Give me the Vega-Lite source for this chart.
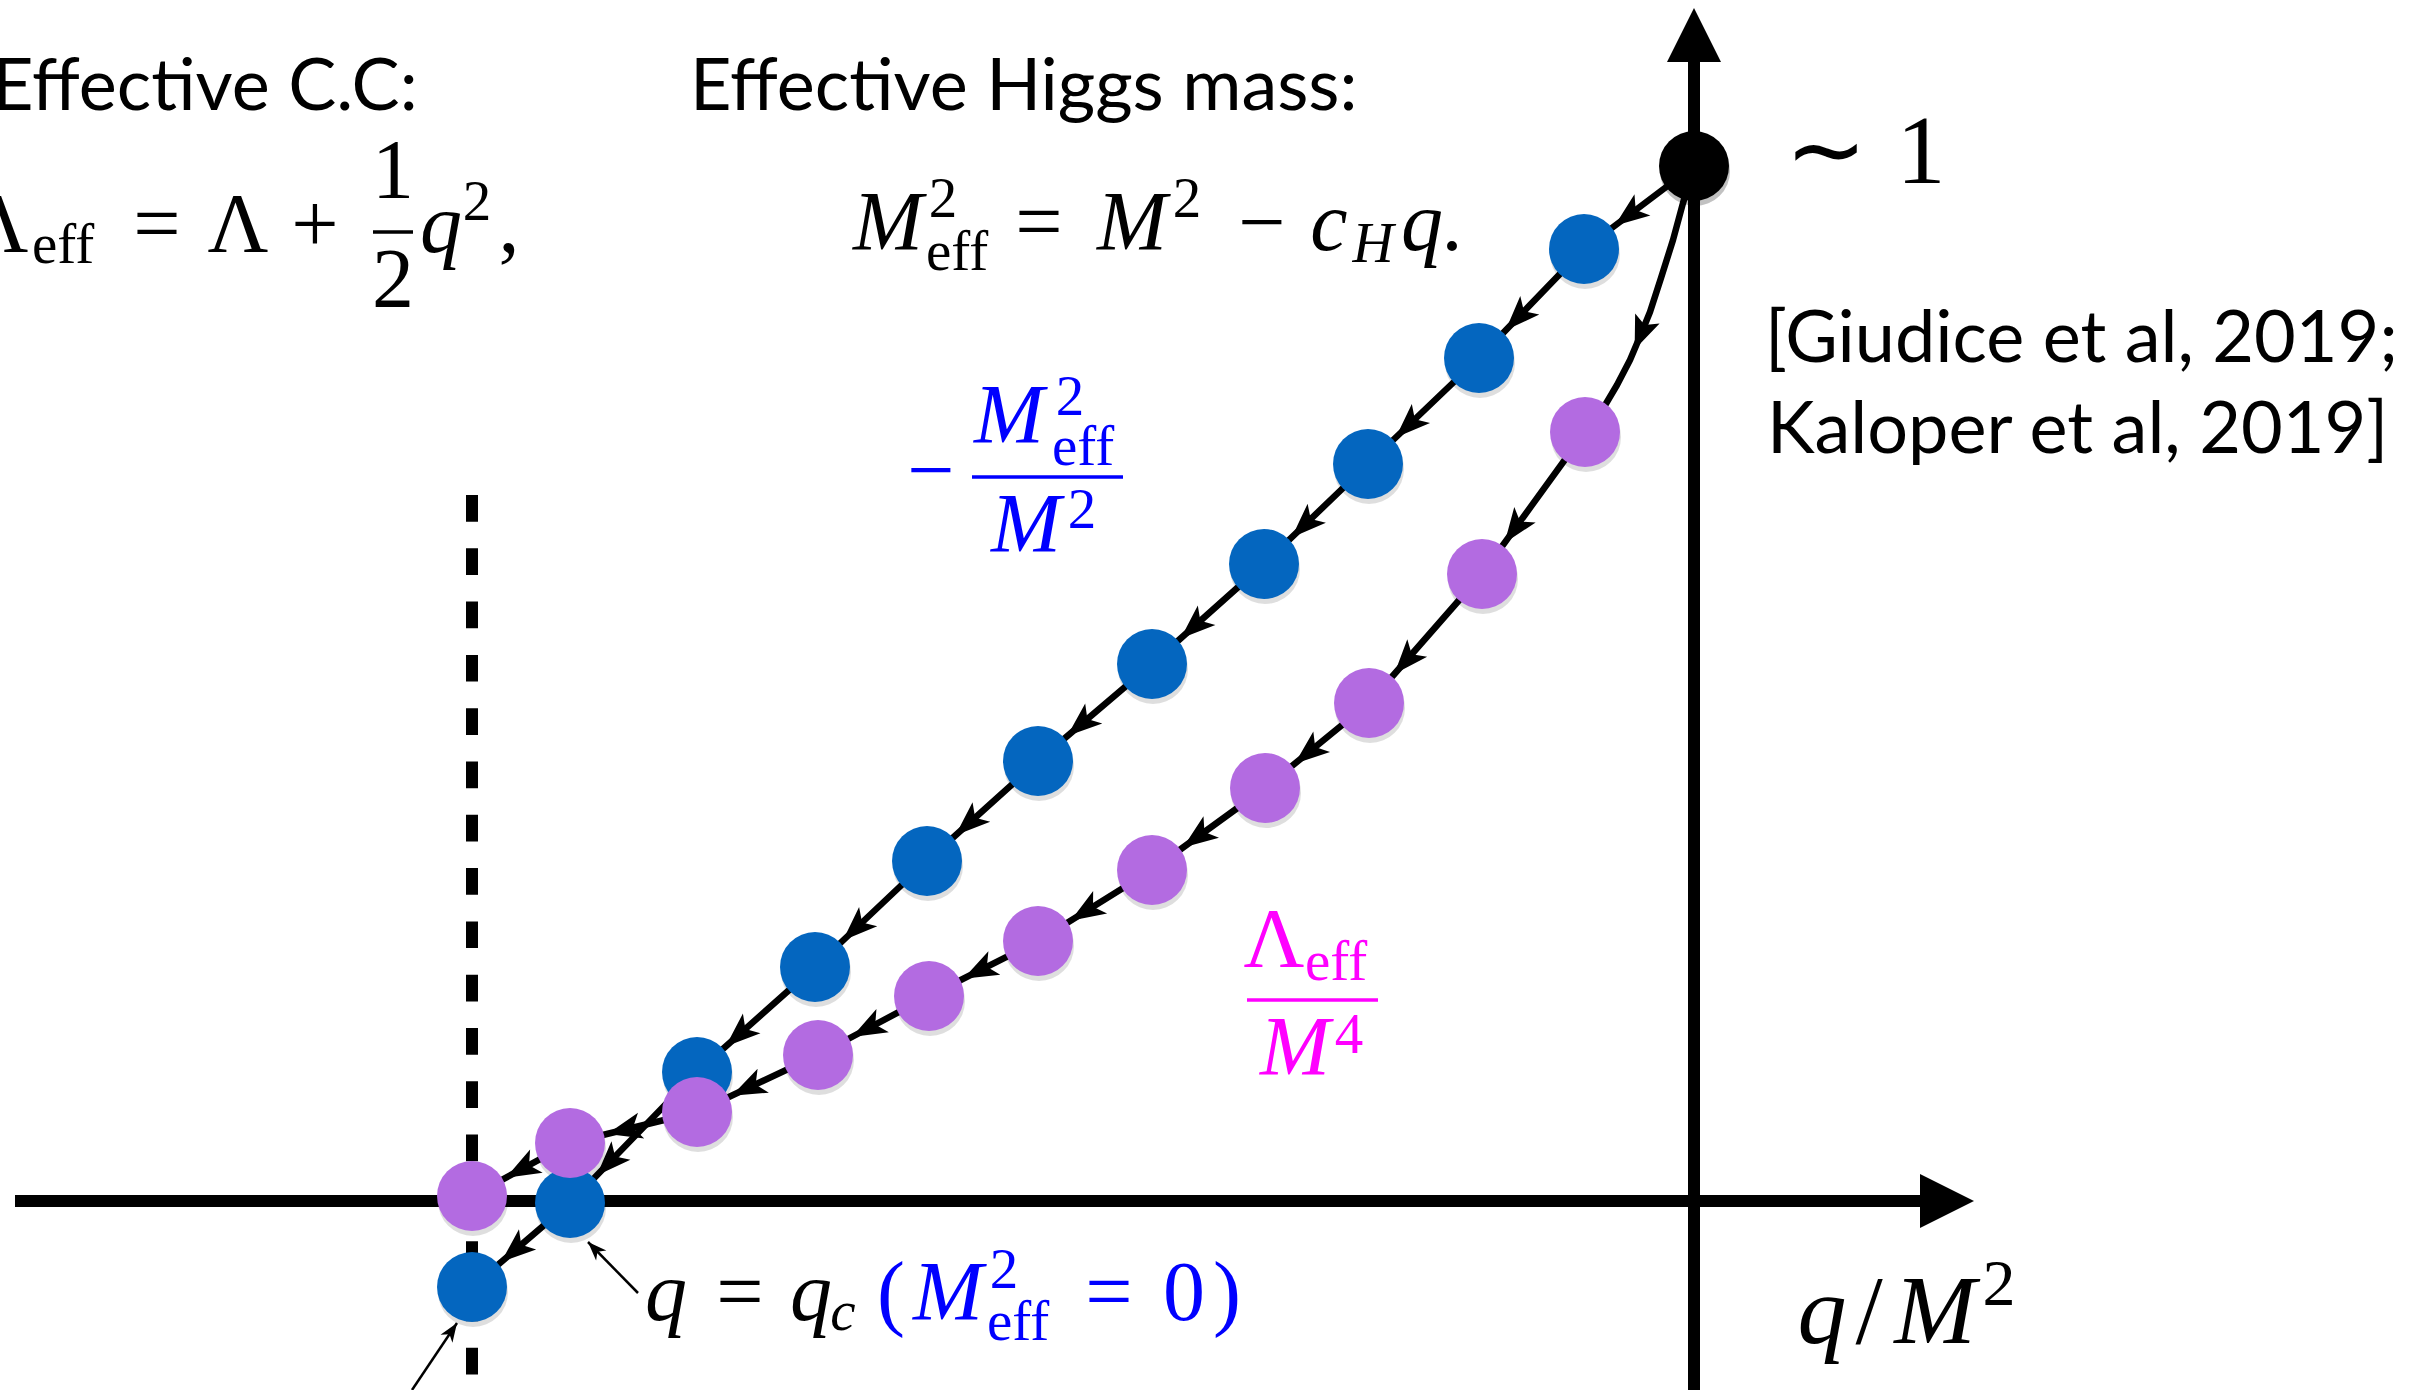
{
  "$schema": "https://vega.github.io/schema/vega-lite/v6.json",
  "width": 2411,
  "height": 1390,
  "autosize": {"type": "none"},
  "padding": 0,
  "background": "white",
  "config": {"view": {"stroke": null}},
  "resolve": {"scale": {"color": "independent"}},
  "datasets": {
    "flow": [
      {"series": "mass", "kind": "state", "n": 0, "q": 0, "v": 1.035},
      {"series": "mass", "kind": "state", "n": 1, "q": -0.110, "v": 0.952},
      {"series": "mass", "kind": "state", "n": 2, "q": -0.215, "v": 0.843},
      {"series": "mass", "kind": "state", "n": 3, "q": -0.326, "v": 0.737},
      {"series": "mass", "kind": "state", "n": 4, "q": -0.430, "v": 0.637},
      {"series": "mass", "kind": "state", "n": 5, "q": -0.542, "v": 0.537},
      {"series": "mass", "kind": "state", "n": 6, "q": -0.656, "v": 0.440},
      {"series": "mass", "kind": "state", "n": 7, "q": -0.767, "v": 0.340},
      {"series": "mass", "kind": "state", "n": 8, "q": -0.879, "v": 0.234},
      {"series": "mass", "kind": "state", "n": 9, "q": -0.997, "v": 0.129},
      {"series": "mass", "kind": "state", "n": 10, "q": -1.124, "v": -0.002},
      {"series": "mass", "kind": "state", "n": 11, "q": -1.222, "v": -0.086},
      {"series": "cc", "kind": "state", "n": 0, "q": 0, "v": 1.035},
      {"series": "cc", "kind": "bend", "n": 0.1, "q": -0.011, "v": 0.998},
      {"series": "cc", "kind": "bend", "n": 0.2, "q": -0.021, "v": 0.961},
      {"series": "cc", "kind": "bend", "n": 0.3, "q": -0.033, "v": 0.923},
      {"series": "cc", "kind": "bend", "n": 0.4, "q": -0.044, "v": 0.889},
      {"series": "cc", "kind": "bend", "n": 0.5, "q": -0.053, "v": 0.867},
      {"series": "cc", "kind": "bend", "n": 0.6, "q": -0.064, "v": 0.841},
      {"series": "cc", "kind": "bend", "n": 0.7, "q": -0.077, "v": 0.816},
      {"series": "cc", "kind": "bend", "n": 0.8, "q": -0.090, "v": 0.794},
      {"series": "cc", "kind": "state", "n": 1, "q": -0.109, "v": 0.769},
      {"series": "cc", "kind": "state", "n": 2, "q": -0.212, "v": 0.627},
      {"series": "cc", "kind": "state", "n": 3, "q": -0.325, "v": 0.498},
      {"series": "cc", "kind": "state", "n": 4, "q": -0.429, "v": 0.413},
      {"series": "cc", "kind": "state", "n": 5, "q": -0.542, "v": 0.331},
      {"series": "cc", "kind": "state", "n": 6, "q": -0.656, "v": 0.260},
      {"series": "cc", "kind": "state", "n": 7, "q": -0.765, "v": 0.205},
      {"series": "cc", "kind": "state", "n": 8, "q": -0.876, "v": 0.146},
      {"series": "cc", "kind": "state", "n": 9, "q": -0.997, "v": 0.089},
      {"series": "cc", "kind": "state", "n": 10, "q": -1.124, "v": 0.058},
      {"series": "cc", "kind": "state", "n": 11, "q": -1.222, "v": 0.005}
    ],
    "axes": [
      {"axis": "q", "q": -1.679, "v": 0, "q2": 0.25, "v2": 0, "tq": 0.28, "tv": 0},
      {"axis": "y", "q": 0, "v": -0.189, "q2": 0, "v2": 1.163, "tq": 0, "tv": 1.193}
    ],
    "threshold": [{"q": -1.222, "v": 0.706, "v2": -0.189}],
    "pointers": [
      {"q": -1.106, "v": -0.041, "q2": -1.056, "v2": -0.092},
      {"q": -1.237, "v": -0.122, "q2": -1.282, "v2": -0.189}
    ],
    "bars": [
      {"tone": "ink", "q": -1.321, "q2": -1.281, "v": 0.969},
      {"tone": "mass", "q": -0.722, "q2": -0.571, "v": 0.724},
      {"tone": "cc", "q": -0.447, "q2": -0.316, "v": 0.201}
    ],
    "labels": [
      {"text": "Effective C.C:", "style": "sans", "tone": "ink", "q": -1.702, "v": 1.091},
      {"text": "Effective Higgs mass:", "style": "sans", "tone": "ink", "q": -1.004, "v": 1.091},
      {"text": "[Giudice et al, 2019;", "style": "sans", "tone": "ink", "q": 0.071, "v": 0.839},
      {"text": "Kaloper et al, 2019]", "style": "sans", "tone": "ink", "q": 0.073, "v": 0.748},

      {"text": "Λ", "style": "rm", "tone": "ink", "q": -1.696, "v": 0.949},
      {"text": "eff", "style": "rmS", "tone": "ink", "q": -1.631, "v": 0.938},
      {"text": "=", "style": "rm", "tone": "ink", "q": -1.537, "v": 0.949},
      {"text": "Λ", "style": "rm", "tone": "ink", "q": -1.456, "v": 0.949},
      {"text": "+", "style": "rm", "tone": "ink", "q": -1.379, "v": 0.949},
      {"text": "1", "style": "rm", "tone": "ink", "q": -1.301, "v": 1.003},
      {"text": "2", "style": "rm", "tone": "ink", "q": -1.301, "v": 0.894},
      {"text": "q", "style": "it", "tone": "ink", "q": -1.253, "v": 0.949},
      {"text": "2", "style": "rmS", "tone": "ink", "q": -1.217, "v": 0.981},
      {"text": ",", "style": "rm", "tone": "ink", "q": -1.185, "v": 0.949},

      {"text": "M", "style": "it", "tone": "ink", "q": -0.806, "v": 0.951},
      {"text": "2", "style": "rmS", "tone": "ink", "q": -0.751, "v": 0.984},
      {"text": "eff", "style": "rmS", "tone": "ink", "q": -0.737, "v": 0.931},
      {"text": "=", "style": "rm", "tone": "ink", "q": -0.655, "v": 0.951},
      {"text": "M", "style": "it", "tone": "ink", "q": -0.562, "v": 0.951},
      {"text": "2", "style": "rmS", "tone": "ink", "q": -0.507, "v": 0.984},
      {"text": "−", "style": "rm", "tone": "ink", "q": -0.432, "v": 0.951},
      {"text": "c", "style": "it", "tone": "ink", "q": -0.365, "v": 0.951},
      {"text": "H", "style": "itS", "tone": "ink", "q": -0.321, "v": 0.939},
      {"text": "q", "style": "it", "tone": "ink", "q": -0.272, "v": 0.951},
      {"text": ".", "style": "rm", "tone": "ink", "q": -0.242, "v": 0.951},

      {"text": "∼", "style": "big", "tone": "ink", "q": 0.132, "v": 1.018},
      {"text": "1", "style": "big", "tone": "ink", "q": 0.227, "v": 1.018},

      {"text": "−", "style": "rm", "tone": "mass", "q": -0.763, "v": 0.703},
      {"text": "M", "style": "it", "tone": "mass", "q": -0.685, "v": 0.758},
      {"text": "2", "style": "rmS", "tone": "mass", "q": -0.624, "v": 0.786},
      {"text": "eff", "style": "rmS", "tone": "mass", "q": -0.611, "v": 0.736},
      {"text": "M", "style": "it", "tone": "mass", "q": -0.668, "v": 0.649},
      {"text": "2", "style": "rmS", "tone": "mass", "q": -0.612, "v": 0.673},

      {"text": "Λ", "style": "rm", "tone": "cc", "q": -0.420, "v": 0.234},
      {"text": "eff", "style": "rmS", "tone": "cc", "q": -0.358, "v": 0.221},
      {"text": "M", "style": "it", "tone": "cc", "q": -0.399, "v": 0.126},
      {"text": "4", "style": "rmS", "tone": "cc", "q": -0.345, "v": 0.148},

      {"text": "q", "style": "it", "tone": "ink", "q": -1.028, "v": -0.119},
      {"text": "=", "style": "rm", "tone": "ink", "q": -0.954, "v": -0.119},
      {"text": "q", "style": "it", "tone": "ink", "q": -0.883, "v": -0.119},
      {"text": "c", "style": "itS", "tone": "ink", "q": -0.851, "v": -0.129},
      {"text": "(", "style": "rm", "tone": "mass", "q": -0.803, "v": -0.119},
      {"text": "M", "style": "it", "tone": "mass", "q": -0.746, "v": -0.119},
      {"text": "2", "style": "rmS", "tone": "mass", "q": -0.690, "v": -0.087},
      {"text": "eff", "style": "rmS", "tone": "mass", "q": -0.676, "v": -0.139},
      {"text": "=", "style": "rm", "tone": "mass", "q": -0.585, "v": -0.119},
      {"text": "0", "style": "rm", "tone": "mass", "q": -0.510, "v": -0.119},
      {"text": ")", "style": "rm", "tone": "mass", "q": -0.467, "v": -0.119},

      {"text": "q", "style": "bigIt", "tone": "ink", "q": 0.128, "v": -0.142},
      {"text": "/", "style": "big", "tone": "ink", "q": 0.175, "v": -0.142},
      {"text": "M", "style": "bigIt", "tone": "ink", "q": 0.241, "v": -0.142},
      {"text": "2", "style": "bigS", "tone": "ink", "q": 0.305, "v": -0.104}
    ]
  },
  "encoding": {
    "x": {"field": "q", "type": "quantitative", "axis": null, "scale": {"domain": [-1.694, 0.717], "nice": false, "zero": false}},
    "y": {"field": "v", "type": "quantitative", "axis": null, "scale": {"domain": [-0.189, 1.201], "nice": false, "zero": false}}
  },
  "layer": [
    {
      "data": {"name": "axes"},
      "mark": {"type": "rule", "color": "black", "strokeWidth": 12},
      "encoding": {"x2": {"field": "q2"}, "y2": {"field": "v2"}}
    },
    {
      "data": {"name": "axes"},
      "transform": [{"calculate": "atan2(datum.tq - datum.q, datum.tv - datum.v) * 180 / PI", "as": "ang"}],
      "mark": {"type": "point", "shape": "M0,0L-1,2L1,2Z", "size": 2916, "filled": true, "color": "black", "opacity": 1},
      "encoding": {
        "x": {"field": "tq", "type": "quantitative", "axis": null, "scale": {"domain": [-1.694, 0.717], "nice": false, "zero": false}},
        "y": {"field": "tv", "type": "quantitative", "axis": null, "scale": {"domain": [-0.189, 1.201], "nice": false, "zero": false}},
        "angle": {"field": "ang", "type": "quantitative", "scale": null}
      }
    },
    {
      "data": {"name": "threshold"},
      "mark": {"type": "rule", "color": "black", "strokeWidth": 12, "strokeDash": [26.7, 26.6]},
      "encoding": {"y2": {"field": "v2"}}
    },
    {
      "data": {"name": "flow"},
      "mark": {"type": "line", "color": "black", "strokeWidth": 6.5, "strokeJoin": "round"},
      "encoding": {
        "detail": {"field": "series", "type": "nominal"},
        "order": {"field": "n", "type": "quantitative"}
      }
    },
    {
      "data": {"name": "pointers"},
      "mark": {"type": "rule", "color": "black", "strokeWidth": 2.5},
      "encoding": {"x2": {"field": "q2"}, "y2": {"field": "v2"}}
    },
    {
      "data": {"name": "pointers"},
      "transform": [{"calculate": "atan2(datum.q - datum.q2, datum.v - datum.v2) * 180 / PI", "as": "ang"}],
      "mark": {"type": "point", "shape": "M0,0L-0.8,2.1L0,1.5L0.8,2.1Z", "size": 324, "filled": true, "color": "black", "opacity": 1},
      "encoding": {"angle": {"field": "ang", "type": "quantitative", "scale": null}}
    },
    {
      "data": {"name": "flow"},
      "transform": [{"filter": "datum.kind == 'state'"}],
      "mark": {"type": "point", "shape": "circle", "size": 4900, "filled": true, "color": "black", "opacity": 0.13, "yOffset": 5, "xOffset": 1}
    },
    {
      "data": {"name": "flow"},
      "transform": [{"filter": "datum.kind == 'state' && datum.n > 0"}],
      "mark": {"type": "point", "shape": "circle", "size": 4900, "filled": true, "opacity": 1},
      "encoding": {
        "color": {"field": "series", "type": "nominal", "legend": null, "scale": {"domain": ["mass", "cc"], "range": ["#0466BF", "#B36BE1"]}}
      }
    },
    {
      "data": {"name": "flow"},
      "transform": [{"filter": "datum.n == 0 && datum.series == 'mass'"}],
      "mark": {"type": "point", "shape": "circle", "size": 4900, "filled": true, "color": "black", "opacity": 1}
    },
    {
      "data": {"name": "flow"},
      "transform": [
        {"window": [{"op": "lag", "field": "q", "as": "pq"}, {"op": "lag", "field": "v", "as": "pv"}, {"op": "lag", "field": "kind", "as": "pk"}], "groupby": ["series"], "sort": [{"field": "n", "order": "ascending"}]},
        {"filter": "datum.kind == 'state' && datum.n > 0 && datum.pk == 'state'"},
        {"calculate": "atan2(datum.q - datum.pq, datum.v - datum.pv) * 180 / PI", "as": "ang"}
      ],
      "mark": {"type": "point", "shape": "M0,3.2L-1.1,6.1L0,5.4L1.1,6.1Z", "size": 576, "filled": true, "color": "black", "opacity": 1},
      "encoding": {"angle": {"field": "ang", "type": "quantitative", "scale": null}}
    },
    {
      "data": {"name": "flow"},
      "transform": [
        {"window": [{"op": "lag", "field": "q", "as": "pq"}, {"op": "lag", "field": "v", "as": "pv"}], "groupby": ["series"], "sort": [{"field": "n", "order": "ascending"}]},
        {"filter": "datum.series == 'cc' && datum.n == 0.5"},
        {"calculate": "atan2(datum.q - datum.pq, datum.v - datum.pv) * 180 / PI", "as": "ang"}
      ],
      "mark": {"type": "point", "shape": "M0,-1.4L-1.1,1.4L0,0.8L1.1,1.4Z", "size": 576, "filled": true, "color": "black", "opacity": 1},
      "encoding": {"angle": {"field": "ang", "type": "quantitative", "scale": null}}
    },
    {
      "data": {"name": "bars"},
      "mark": {"type": "rule", "strokeWidth": 3.5},
      "encoding": {
        "x2": {"field": "q2"},
        "color": {"field": "tone", "type": "nominal", "legend": null, "scale": {"domain": ["ink", "mass", "cc"], "range": ["#000000", "#0000FF", "#FF00FF"]}}
      }
    },
    {
      "data": {"name": "labels"},
      "transform": [{"filter": "datum.style == 'sans'"}],
      "mark": {"type": "text", "font": "Lato", "fontSize": 72, "align": "left", "baseline": "alphabetic"},
      "encoding": {"text": {"field": "text"}, "color": {"field": "tone", "type": "nominal", "legend": null, "scale": {"domain": ["ink", "mass", "cc"], "range": ["#000000", "#0000FF", "#FF00FF"]}}}
    },
    {
      "data": {"name": "labels"},
      "transform": [{"filter": "datum.style == 'rm'"}],
      "mark": {"type": "text", "font": "Liberation Serif", "fontSize": 84, "align": "center", "baseline": "alphabetic"},
      "encoding": {"text": {"field": "text"}, "color": {"field": "tone", "type": "nominal", "legend": null, "scale": {"domain": ["ink", "mass", "cc"], "range": ["#000000", "#0000FF", "#FF00FF"]}}}
    },
    {
      "data": {"name": "labels"},
      "transform": [{"filter": "datum.style == 'it'"}],
      "mark": {"type": "text", "font": "Liberation Serif", "fontStyle": "italic", "fontSize": 84, "align": "center", "baseline": "alphabetic"},
      "encoding": {"text": {"field": "text"}, "color": {"field": "tone", "type": "nominal", "legend": null, "scale": {"domain": ["ink", "mass", "cc"], "range": ["#000000", "#0000FF", "#FF00FF"]}}}
    },
    {
      "data": {"name": "labels"},
      "transform": [{"filter": "datum.style == 'rmS'"}],
      "mark": {"type": "text", "font": "Liberation Serif", "fontSize": 57, "align": "center", "baseline": "alphabetic"},
      "encoding": {"text": {"field": "text"}, "color": {"field": "tone", "type": "nominal", "legend": null, "scale": {"domain": ["ink", "mass", "cc"], "range": ["#000000", "#0000FF", "#FF00FF"]}}}
    },
    {
      "data": {"name": "labels"},
      "transform": [{"filter": "datum.style == 'itS'"}],
      "mark": {"type": "text", "font": "Liberation Serif", "fontStyle": "italic", "fontSize": 57, "align": "center", "baseline": "alphabetic"},
      "encoding": {"text": {"field": "text"}, "color": {"field": "tone", "type": "nominal", "legend": null, "scale": {"domain": ["ink", "mass", "cc"], "range": ["#000000", "#0000FF", "#FF00FF"]}}}
    },
    {
      "data": {"name": "labels"},
      "transform": [{"filter": "datum.style == 'big'"}],
      "mark": {"type": "text", "font": "Liberation Serif", "fontSize": 98, "align": "center", "baseline": "alphabetic"},
      "encoding": {"text": {"field": "text"}, "color": {"field": "tone", "type": "nominal", "legend": null, "scale": {"domain": ["ink", "mass", "cc"], "range": ["#000000", "#0000FF", "#FF00FF"]}}}
    },
    {
      "data": {"name": "labels"},
      "transform": [{"filter": "datum.style == 'bigIt'"}],
      "mark": {"type": "text", "font": "Liberation Serif", "fontStyle": "italic", "fontSize": 98, "align": "center", "baseline": "alphabetic"},
      "encoding": {"text": {"field": "text"}, "color": {"field": "tone", "type": "nominal", "legend": null, "scale": {"domain": ["ink", "mass", "cc"], "range": ["#000000", "#0000FF", "#FF00FF"]}}}
    },
    {
      "data": {"name": "labels"},
      "transform": [{"filter": "datum.style == 'bigS'"}],
      "mark": {"type": "text", "font": "Liberation Serif", "fontSize": 66, "align": "center", "baseline": "alphabetic"},
      "encoding": {"text": {"field": "text"}, "color": {"field": "tone", "type": "nominal", "legend": null, "scale": {"domain": ["ink", "mass", "cc"], "range": ["#000000", "#0000FF", "#FF00FF"]}}}
    }
  ]
}
